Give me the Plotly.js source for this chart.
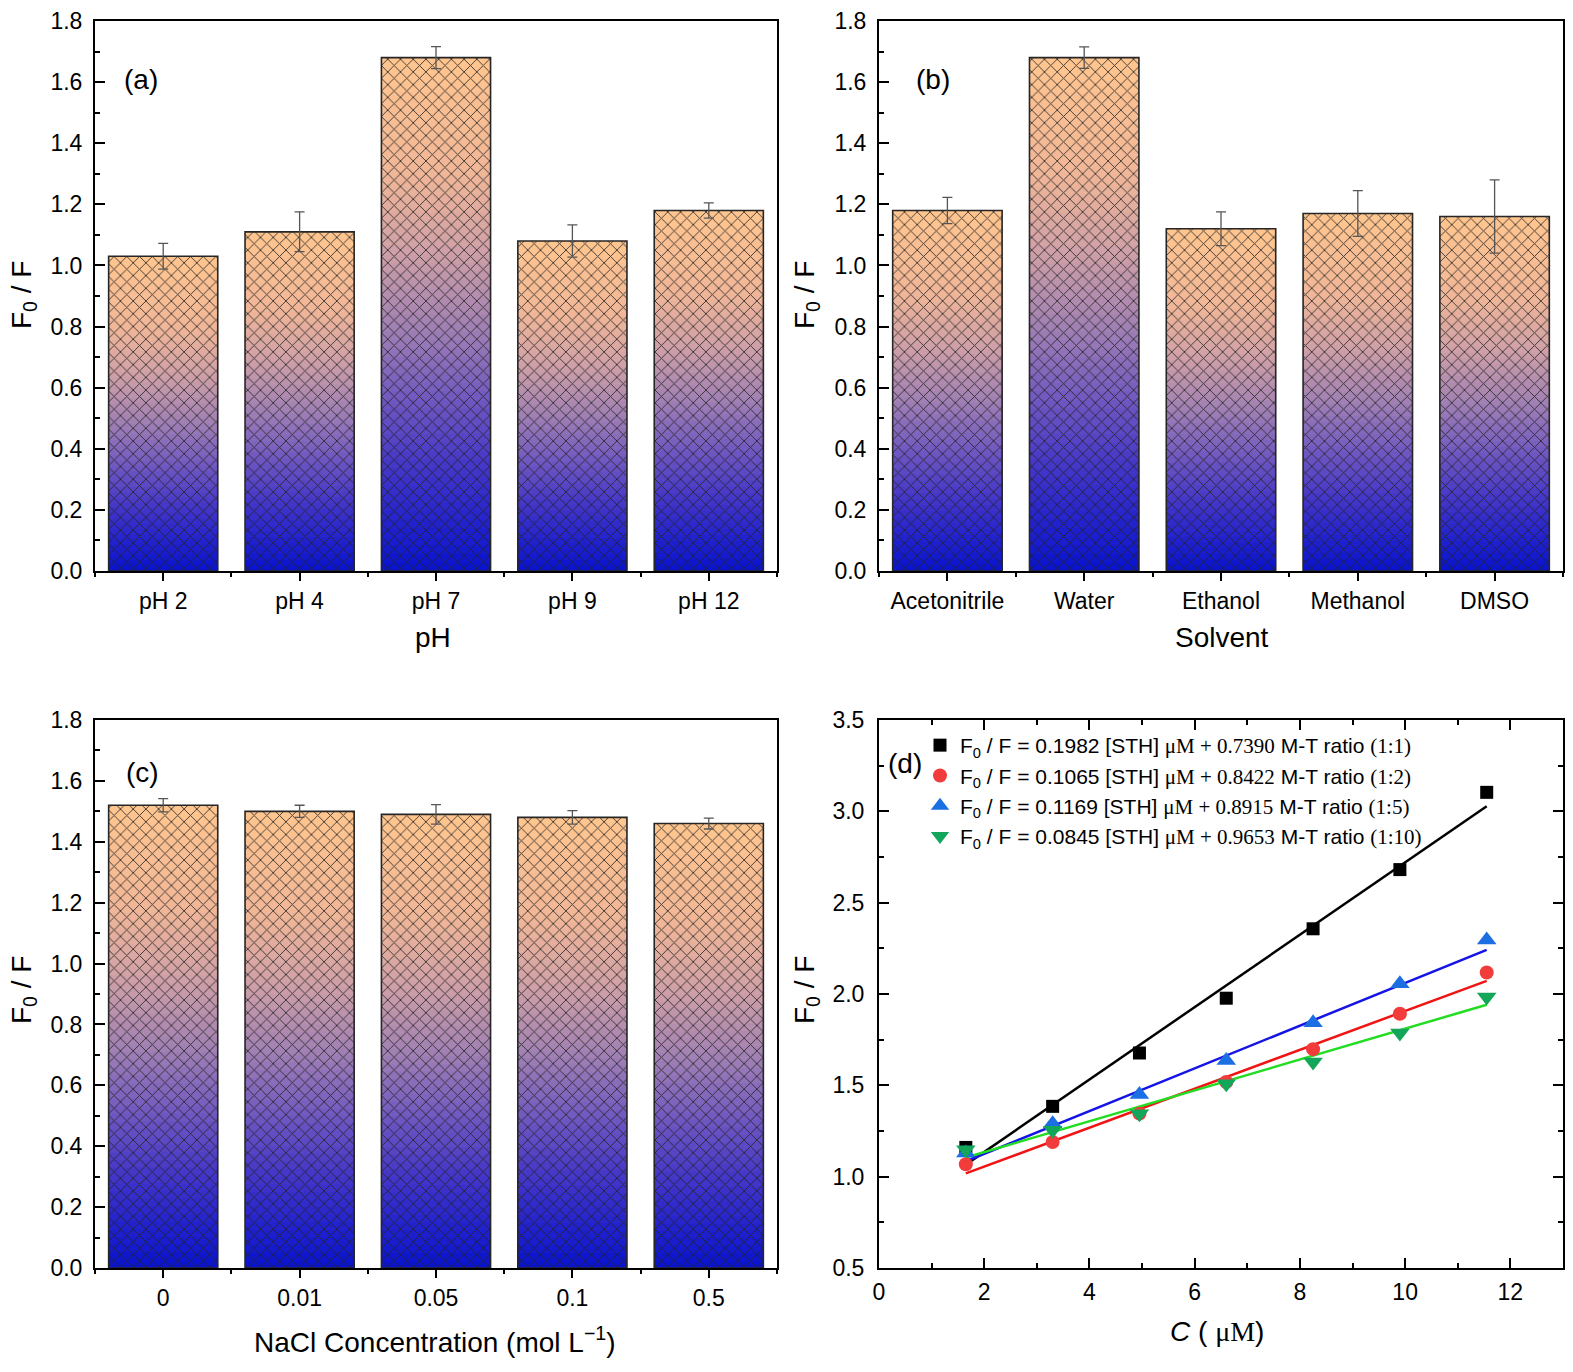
<!DOCTYPE html>
<html>
<head>
<meta charset="utf-8">
<script src="https://cdn.plot.ly/plotly-3.0.1.min.js"></script>
<style>
  body { margin: 0; background: #fff; }
  #chart { width: 1573px; height: 1372px; }
</style>
</head>
<body>
<div id="chart"></div>
<script>
// dane
const pHLabels = ['pH 2', 'pH 4', 'pH 7', 'pH 9', 'pH 12'];
const pHValues = [1.03, 1.11, 1.68, 1.08, 1.18];
const pHErrors = [0.042, 0.065, 0.036, 0.053, 0.025];

const solventLabels = ['Acetonitrile', 'Water', 'Ethanol', 'Methanol', 'DMSO'];
const solventValues = [1.18, 1.68, 1.12, 1.17, 1.16];
const solventErrors = [0.043, 0.035, 0.055, 0.075, 0.12];

const naclLabels = ['0', '0.01', '0.05', '0.1', '0.5'];
const naclValues = [1.52, 1.50, 1.49, 1.48, 1.46];
const naclErrors = [0.022, 0.02, 0.032, 0.022, 0.018];

const concX = [1.65, 3.3, 4.95, 6.6, 8.25, 9.9, 11.55];
const ratio11 = [1.16, 1.385, 1.677, 1.977, 2.357, 2.681, 3.104];
const ratio12 = [1.068, 1.19, 1.345, 1.518, 1.698, 1.892, 2.118];
const ratio15 = [1.13, 1.29, 1.45, 1.636, 1.842, 2.056, 2.296];
const ratio110 = [1.148, 1.254, 1.345, 1.509, 1.628, 1.786, 1.983];
const ratioNames = ['(1:1)', '(1:2)', '(1:5)', '(1:10)'];
const fitSlopes = [0.1982, 0.1065, 0.1169, 0.0845];
const fitIntercepts = [0.7390, 0.8422, 0.8915, 0.9653];

const W = 1573, H = 1372;
const px = x => x / W;
const py = y => 1 - y / H;
const FONT = 'Liberation Sans';
const SERIF = 'Liberation Serif';

// gradient słupka: od dołu (niebieski) do góry (brzoskwiniowy)
const gradStops = [
  [0.00, [6, 18, 207]],
  [0.10, [34, 34, 205]],
  [0.22, [70, 56, 200]],
  [0.35, [115, 90, 192]],
  [0.48, [160, 128, 180]],
  [0.62, [204, 158, 168]],
  [0.78, [240, 182, 152]],
  [1.00, [255, 197, 143]],
];
function gradColor(t) {
  for (let i = 1; i < gradStops.length; i++) {
    const [t1, c1] = gradStops[i];
    const [t0, c0] = gradStops[i - 1];
    if (t <= t1) {
      const f = (t - t0) / (t1 - t0);
      const c = c0.map((v, j) => Math.round(v + (c1[j] - v) * f));
      return `rgb(${c[0]},${c[1]},${c[2]})`;
    }
  }
  return 'rgb(255,197,143)';
}

const SEG = 60;
function barPanel(values, errors, xa, ya) {
  const segX = [], segY = [], segC = [];
  values.forEach((v, i) => {
    for (let k = SEG; k >= 1; k--) {
      segX.push(i);
      segY.push(v * k / SEG);
      segC.push(gradColor(k / SEG));
    }
  });
  const idx = values.map((_, i) => i);
  return [
    {
      type: 'bar', x: segX, y: segY, width: 0.8, xaxis: xa, yaxis: ya,
      marker: { color: segC, line: { width: 0 } },
      hoverinfo: 'skip', showlegend: false
    },
    {
      type: 'bar', x: idx, y: values, width: 0.8, xaxis: xa, yaxis: ya,
      marker: {
        color: 'rgba(0,0,0,0)',
        line: { color: '#262626', width: 1.6 },
        pattern: { shape: 'x', size: 9, solidity: 0.2, fgcolor: '#222', fgopacity: 0.85, fillmode: 'overlay' }
      },
      error_y: { type: 'data', array: errors, visible: true, color: '#555', thickness: 1.3, width: 5 },
      showlegend: false
    }
  ];
}

const traces = [
  ...barPanel(pHValues, pHErrors, 'x', 'y'),
  ...barPanel(solventValues, solventErrors, 'x2', 'y2'),
  ...barPanel(naclValues, naclErrors, 'x3', 'y3'),
];

// panel (d): linie dopasowania + punkty
const series = [ratio11, ratio12, ratio15, ratio110];
const lineColors = ['#000000', '#f01414', '#1414e6', '#22dd22'];
const markerColors = ['#000000', '#f23c3c', '#1c6fe3', '#12a65a'];
const symbols = ['square', 'circle', 'triangle-up', 'triangle-down'];
const markerSizes = [13, 14, 17, 17];
const xFit = [concX[0], concX[concX.length - 1]];
series.forEach((s, i) => {
  traces.push({
    type: 'scatter', mode: 'lines', x: xFit,
    y: xFit.map(x => fitSlopes[i] * x + fitIntercepts[i]),
    line: { color: lineColors[i], width: 2.5 },
    xaxis: 'x4', yaxis: 'y4', showlegend: false, hoverinfo: 'skip'
  });
});
series.forEach((s, i) => {
  const serif = t => `<span style="font-family:${SERIF}">${t}</span>`;
  traces.push({
    type: 'scatter', mode: 'markers', x: concX, y: s,
    marker: { symbol: symbols[i], color: markerColors[i], size: markerSizes[i] },
    name: `F<sub>0</sub> / F = ${fitSlopes[i].toFixed(4)} [STH] ${serif('μM + ' + fitIntercepts[i].toFixed(4))} M-T ratio ${serif(ratioNames[i])}`,
    legendgroup: 'g' + i,
    xaxis: 'x4', yaxis: 'y4'
  });
});

const tickFont = { family: FONT, size: 23, color: '#000' };
function barX(domain, labels, anchor) {
  return {
    domain, anchor, range: [-0.5, 4.5],
    tickmode: 'array', tickvals: labels.map((_, i) => i), ticktext: labels,
    ticks: 'outside', ticklen: 8, tickwidth: 2, tickcolor: '#000',
    minor: { ticks: 'outside', ticklen: 4, tickwidth: 2, tickcolor: '#000', tick0: 0.5, dtick: 1 },
    showline: true, linewidth: 2, linecolor: '#000', mirror: true,
    showgrid: false, zeroline: false, tickfont: tickFont, ticklabelstandoff: 0
  };
}
function barY(domain, anchor) {
  return {
    domain, anchor, range: [0, 1.8], dtick: 0.2, tick0: 0, tickformat: '.1f',
    ticks: 'inside', ticklen: 10, tickwidth: 2, tickcolor: '#000',
    minor: { ticks: 'inside', ticklen: 5, tickwidth: 2, tickcolor: '#000', dtick: 0.1 },
    showline: true, linewidth: 2, linecolor: '#000', mirror: true,
    showgrid: false, zeroline: false, tickfont: tickFont, ticklabelstandoff: 6
  };
}

const dxL = [px(95), px(777)], dxR = [px(879), px(1563)];
const dyT = [py(571), py(21)], dyB = [py(1268), py(720)];

function ann(text, x, y, size, extra) {
  return Object.assign({
    text, x: px(x), y: py(y), xref: 'paper', yref: 'paper',
    xanchor: 'center', yanchor: 'middle', showarrow: false,
    font: { family: FONT, size, color: '#000' }
  }, extra || {});
}
const yTitle = 'F<sub>0</sub> / F';

const layout = {
  width: W, height: H,
  margin: { l: 0, r: 0, t: 0, b: 0 },
  paper_bgcolor: '#fff', plot_bgcolor: '#fff',
  font: { family: FONT, color: '#000' },
  barmode: 'overlay',
  showlegend: true,
  legend: {
    x: px(920), y: py(725), xanchor: 'left', yanchor: 'top',
    bgcolor: 'rgba(0,0,0,0)', font: { family: FONT, size: 21, color: '#000' },
    tracegroupgap: 0, itemclick: false
  },
  xaxis: barX(dxL, pHLabels, 'y'),
  yaxis: barY(dyT, 'x'),
  xaxis2: barX(dxR, solventLabels, 'y2'),
  yaxis2: barY(dyT, 'x2'),
  xaxis3: barX(dxL, naclLabels, 'y3'),
  yaxis3: barY(dyB, 'x3'),
  xaxis4: {
    domain: dxR, anchor: 'y4', range: [0, 13], dtick: 2, tick0: 0,
    ticks: 'inside', ticklen: 10, tickwidth: 2, tickcolor: '#000',
    minor: { ticks: 'inside', ticklen: 5, tickwidth: 2, tickcolor: '#000', dtick: 1 },
    showline: true, linewidth: 2, linecolor: '#000', mirror: 'ticks',
    showgrid: false, zeroline: false, tickfont: tickFont, ticklabelstandoff: 2
  },
  yaxis4: {
    domain: dyB, anchor: 'x4', range: [0.5, 3.5], dtick: 0.5, tick0: 0.5, tickformat: '.1f',
    ticks: 'inside', ticklen: 10, tickwidth: 2, tickcolor: '#000',
    minor: { ticks: 'inside', ticklen: 5, tickwidth: 2, tickcolor: '#000', dtick: 0.25 },
    showline: true, linewidth: 2, linecolor: '#000', mirror: 'ticks',
    showgrid: false, zeroline: false, tickfont: tickFont, ticklabelstandoff: 8
  },
  annotations: [
    ann(yTitle, 23, 295, 28, { textangle: -90 }),
    ann(yTitle, 806, 295, 28, { textangle: -90 }),
    ann(yTitle, 23, 990, 28, { textangle: -90 }),
    ann(yTitle, 806, 990, 28, { textangle: -90 }),
    ann('pH', 433, 638, 28),
    ann('Solvent', 1222, 638, 28),
    ann('NaCl Concentration (mol L<sup>−1</sup>)', 435, 1340, 28),
    ann(`<i>C</i> ( <span style="font-family:${SERIF}">μM</span>)`, 1217, 1331, 28),
    ann('(a)', 141, 80, 28),
    ann('(b)', 933, 80, 28),
    ann('(c)', 142, 772, 28),
    ann('(d)', 905, 763, 28),
  ]
};

Plotly.newPlot('chart', traces, layout, { displayModeBar: false, responsive: false });
</script>
</body>
</html>
